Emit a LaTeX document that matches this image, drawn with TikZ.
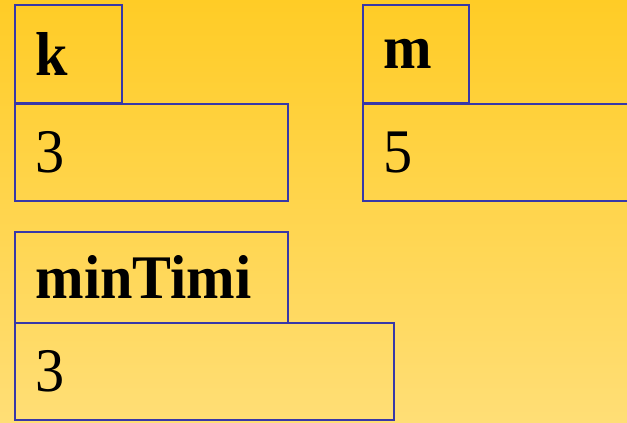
\documentclass[tikz,border=0pt]{standalone}
\usepackage{fontspec}
\setmainfont[FakeStretch=0.94]{Liberation Serif}
\begin{document}
\begin{tikzpicture}[x=1pt,y=-1pt,
  cell/.style={draw=boxblue, line width=1.5pt, anchor=north west,
    inner xsep=21pt, inner ysep=0pt, align=left, text depth=0pt,
    font=\fontsize{62}{70}\selectfont},
  keycell/.style={cell, font=\fontsize{62}{70}\selectfont\bfseries}]
\definecolor{boxblue}{RGB}{56,56,168}
\definecolor{bgtop}{RGB}{255,204,38}
\definecolor{bgbottom}{RGB}{255,222,118}
\useasboundingbox (0,0) rectangle (627,423);
\shade[top color=bgtop, bottom color=bgbottom] (0,0) rectangle (627,423);
\clip (0,0) rectangle (627,423);
% variable k
\node[keycell, text width=65pt, minimum height=98pt] (kname) at (14,4) {k};
\node[cell, text width=231pt, minimum height=97pt] (kval) at (14,103) {3};
% variable m
\node[keycell, text width=64pt, minimum height=98pt] (mname) at (362,4) {m};
\node[cell, text width=240pt, minimum height=97pt] (mval) at (362,103) {5};
% variable minTimi
\node[keycell, text width=231pt, minimum height=91pt] (minname) at (14,231) {minTimi};
\node[cell, text width=337pt, minimum height=97pt] (minval) at (14,322) {3};
\end{tikzpicture}
\end{document}
